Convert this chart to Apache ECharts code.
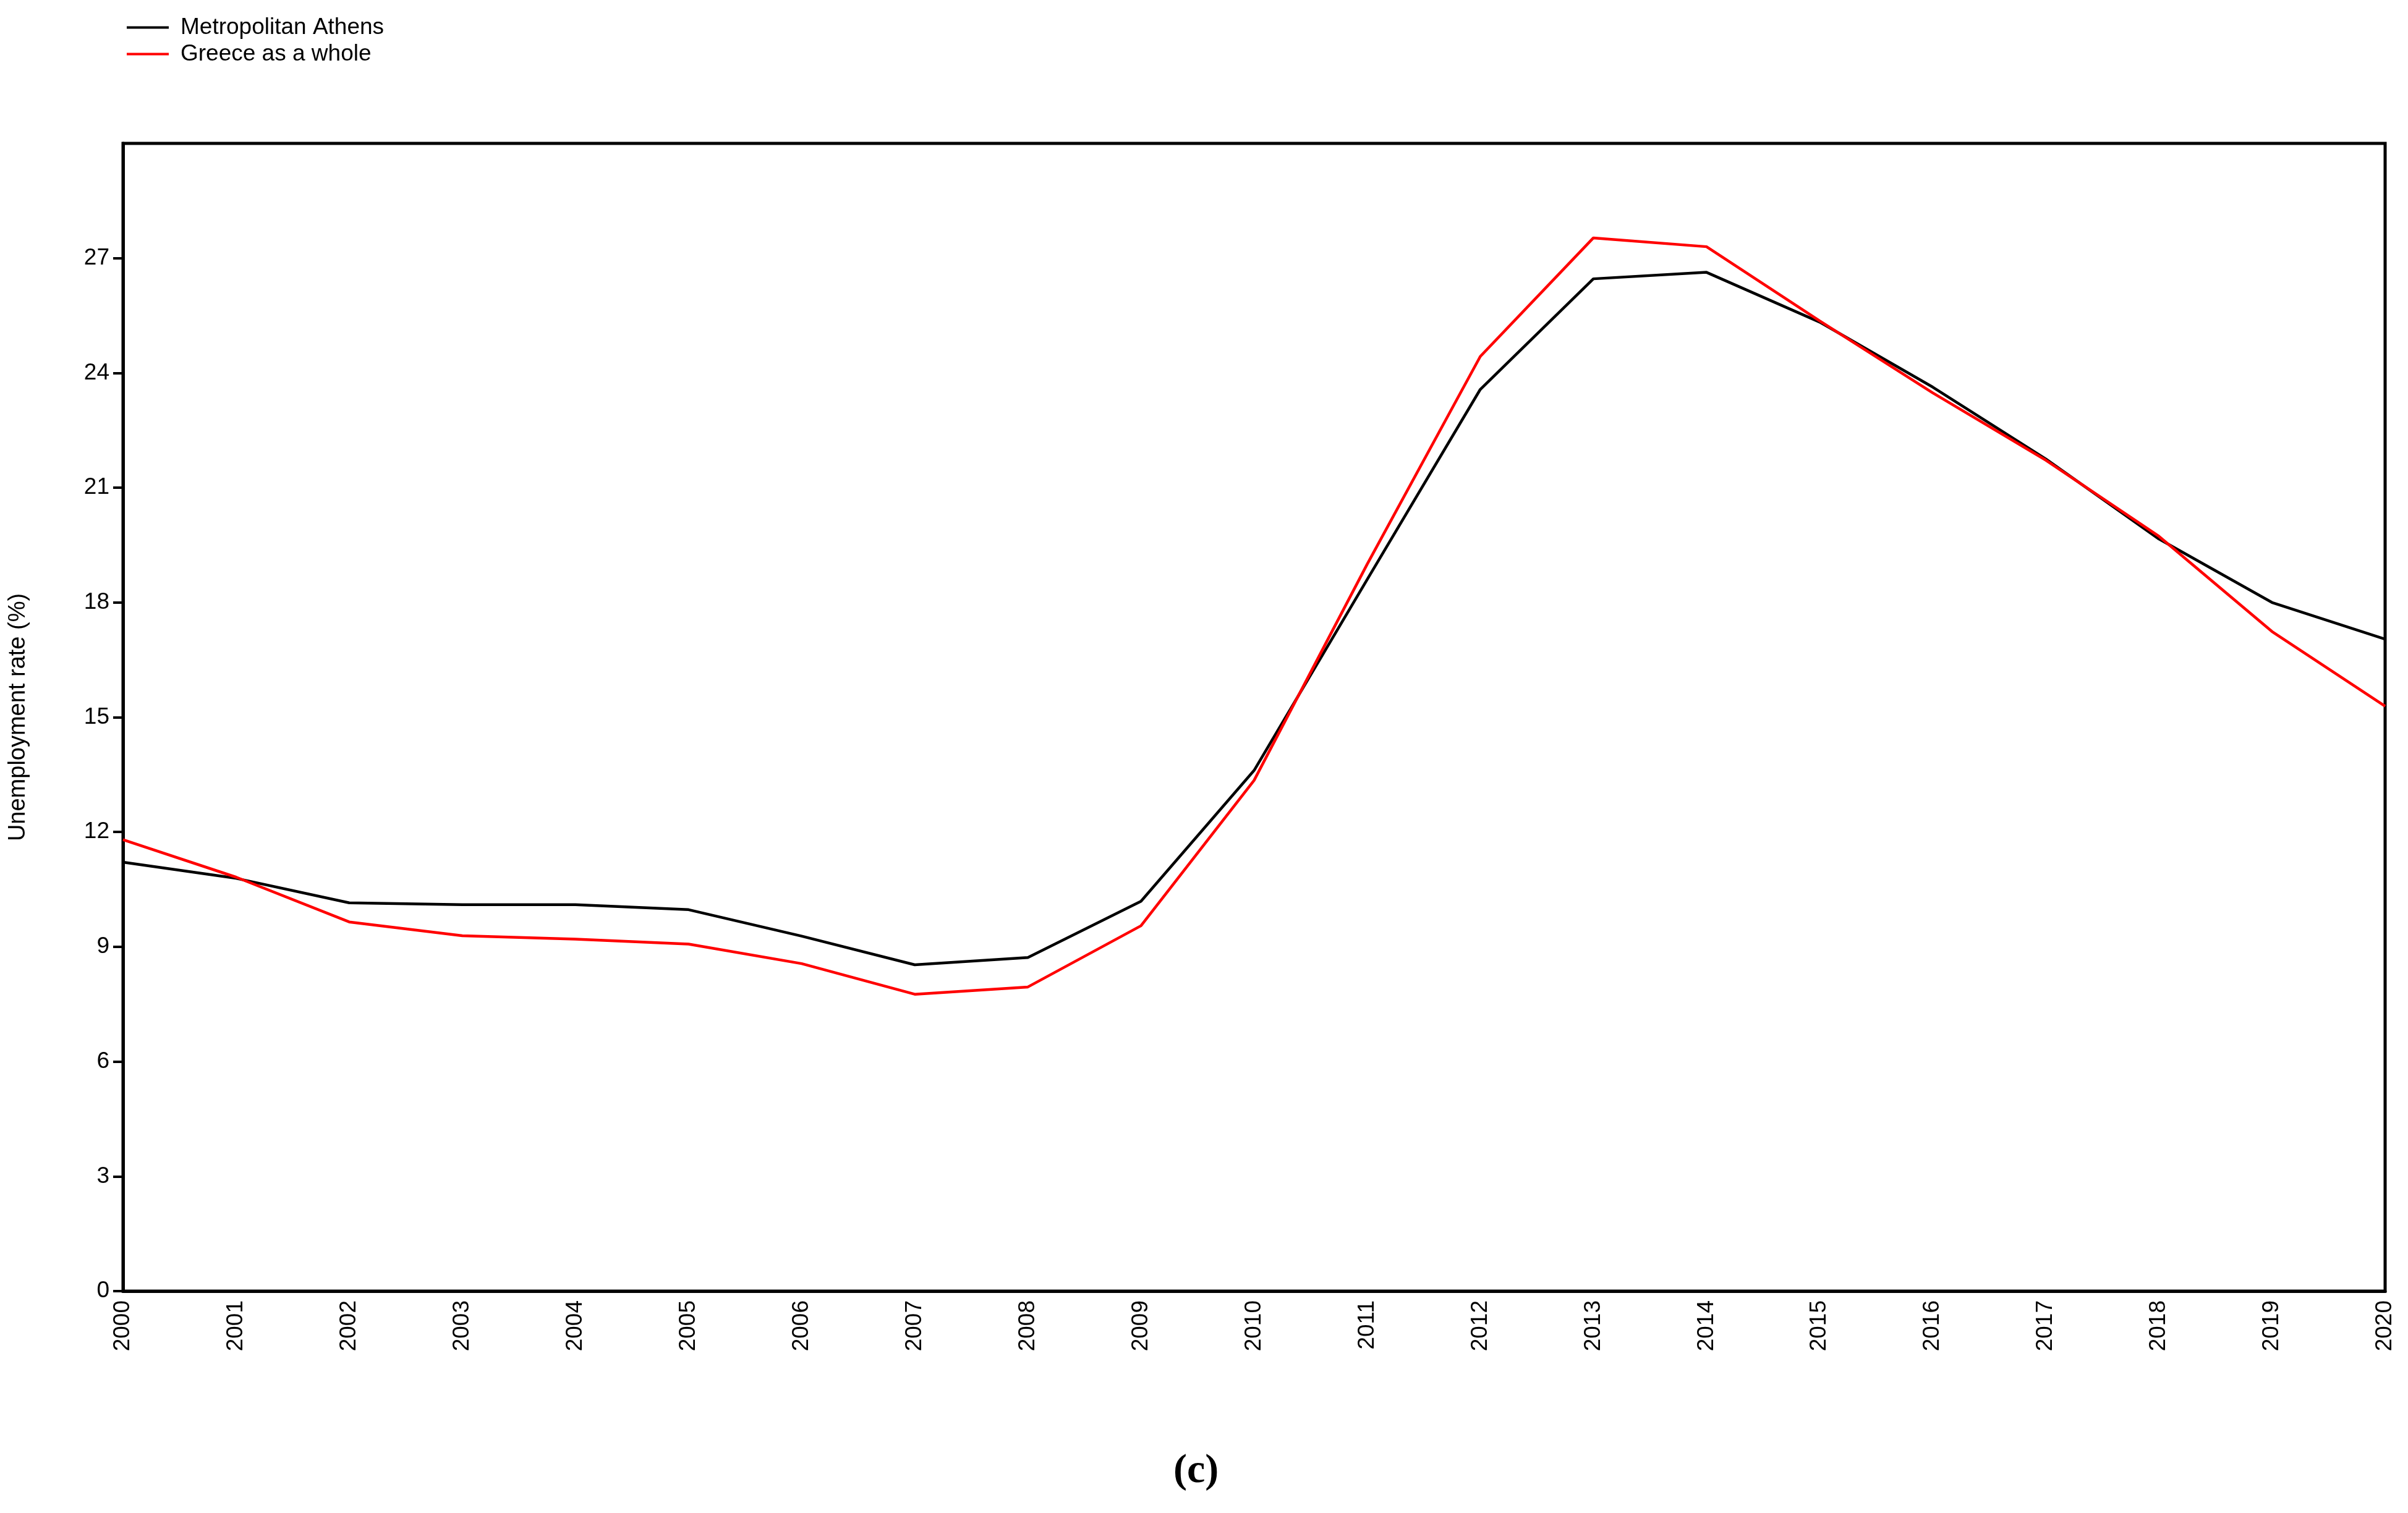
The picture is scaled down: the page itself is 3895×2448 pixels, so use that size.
<!DOCTYPE html>
<html>
<head>
<meta charset="utf-8">
<script src="https://cdn.jsdelivr.net/npm/echarts@6/dist/echarts.min.js"></script>
<style>
  html, body { margin: 0; padding: 0; background: #fff; }
  #chart { width: 3895px; height: 2448px; }
</style>
</head>
<body>
<div id="chart"></div>
<script>
var years = ['2000','2001','2002','2003','2004','2005','2006','2007','2008','2009','2010',
             '2011','2012','2013','2014','2015','2016','2017','2018','2019','2020'];
var athens = [11.21, 10.79, 10.15, 10.10, 10.10, 9.97, 9.28, 8.53, 8.72, 10.19, 13.61,
              18.6, 23.57, 26.46, 26.63, 25.33, 23.63, 21.75, 19.66, 18.0, 17.04];
var greece = [11.80, 10.82, 9.65, 9.29, 9.20, 9.07, 8.56, 7.76, 7.95, 9.55, 13.35,
              19.0, 24.43, 27.53, 27.30, 25.36, 23.48, 21.72, 19.73, 17.24, 15.29];
var yTicks = [0, 3, 6, 9, 12, 15, 18, 21, 24, 27];

var font = 'Liberation Sans';
var myChart = echarts.init(document.getElementById('chart'));
var option = {
    backgroundColor: '#fff',
    animation: false,
    title: {
        text: '{n|(}{b|c}{n|)}',
        left: 1893,
        top: 2343,
        textStyle: {
            rich: {
                n: { fontFamily: 'Liberation Serif', fontSize: 66, color: '#000' },
                b: { fontFamily: 'Liberation Serif', fontSize: 66, fontWeight: 'bold', color: '#000' }
            }
        }
    },
    legend: {
        orient: 'vertical',
        left: 200,
        top: 21,
        icon: 'rect',
        itemWidth: 68,
        itemHeight: 4,
        itemGap: 6,
        textStyle: { fontFamily: font, fontSize: 37, color: '#000', padding: [0, 0, 0, 14] },
        data: ['Metropolitan Athens', 'Greece as a whole']
    },
    grid: {
        left: 199,
        right: 37,
        top: 232,
        bottom: 359,
        show: true,
        borderColor: '#000',
        borderWidth: 5
    },
    xAxis: {
        type: 'category',
        data: years,
        boundaryGap: false,
        axisLine: { lineStyle: { color: '#000', width: 5 } },
        axisTick: { show: false },
        splitLine: { show: false },
        axisLabel: {
            rotate: 90,
            margin: 15,
            fontFamily: font,
            fontSize: 37,
            color: '#000',
            interval: 0
        }
    },
    yAxis: {
        type: 'value',
        min: 0,
        max: 30,
        interval: 3,
        name: 'Unemployment rate (%)',
        nameLocation: 'middle',
        nameGap: 150,
        nameTextStyle: { fontFamily: font, fontSize: 38, color: '#000' },
        axisLine: { show: true, lineStyle: { color: '#000', width: 5 } },
        axisTick: { show: true, length: 16, lineStyle: { color: '#000', width: 4 }, customValues: yTicks },
        splitLine: { show: false },
        axisLabel: {
            margin: 22,
            fontFamily: font,
            fontSize: 37,
            color: '#000',
            customValues: yTicks
        }
    },
    series: [{
        name: 'Metropolitan Athens',
        type: 'line',
        data: athens,
        symbol: 'none',
        color: '#000000',
        lineStyle: { color: '#000000', width: 4.5 }
    }, {
        name: 'Greece as a whole',
        type: 'line',
        data: greece,
        symbol: 'none',
        color: '#ff0000',
        lineStyle: { color: '#ff0000', width: 4.5 }
    }]
};
myChart.setOption(option);
</script>
</body>
</html>
